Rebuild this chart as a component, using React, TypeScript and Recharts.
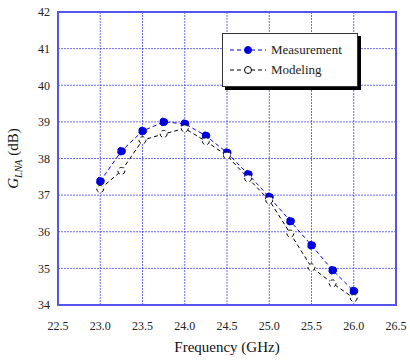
import React from 'react';
import {
    CartesianGrid,
    Label,
    Line,
    LineChart,
    ReferenceArea,
    XAxis,
    YAxis,
} from 'recharts';

const FREQUENCIES = [23.0, 23.25, 23.5, 23.75, 24.0, 24.25, 24.5, 24.75, 25.0, 25.25, 25.5, 25.75, 26.0];
const MEASUREMENT = [37.38, 38.2, 38.75, 39.0, 38.95, 38.62, 38.16, 37.57, 36.95, 36.29, 35.63, 34.95, 34.38];
const MODELING = [37.17, 37.66, 38.5, 38.67, 38.82, 38.47, 38.08, 37.46, 36.86, 35.95, 35.03, 34.59, 34.19];

const X_TICKS = [22.5, 23.0, 23.5, 24.0, 24.5, 25.0, 25.5, 26.0, 26.5];
const Y_TICKS = [34, 35, 36, 37, 38, 39, 40, 41, 42];

const FRAME_COLOR = '#5555ee';
const GRID_COLOR = '#3c3ce6';
const MEAS_COLOR = '#0000dd';
const FONT = '"Liberation Serif", "Times New Roman", serif';

const data = FREQUENCIES.map((f, i) => ({
    freq: f,
    measurement: MEASUREMENT[i],
    modeling: MODELING[i],
}));

const LEGEND_ITEMS = [
    {name: 'Measurement', color: MEAS_COLOR, fill: MEAS_COLOR},
    {name: 'Modeling', color: '#000000', fill: '#ffffff'},
];

// legend sits over the plot, so it is drawn outside the chart's layout
function LegendBox() {
    return (
        <div
            style={{
                position: 'absolute',
                left: 222,
                top: 33,
                width: 136,
                height: 54,
                background: '#fff',
                border: '1px solid #333',
                boxShadow: '3px 3px 0 #000',
                fontFamily: FONT,
                fontSize: 13,
                color: '#222',
                boxSizing: 'border-box',
                paddingTop: 6,
            }}
        >
            {LEGEND_ITEMS.map((item) => (
                <div key={item.name} style={{display: 'flex', alignItems: 'center', height: 20, paddingLeft: 6}}>
                    <svg width={38} height={10}>
                        <line x1={1} y1={5} x2={37} y2={5} stroke={item.color} strokeDasharray="4 3"/>
                        <circle cx={19} cy={5} r={3.5} fill={item.fill} stroke={item.color}/>
                    </svg>
                    <span style={{marginLeft: 4}}>{item.name}</span>
                </div>
            ))}
        </div>
    );
}

function YTitle({viewBox}: any) {
    const cx = 18;
    const cy = viewBox.y + viewBox.height / 2;
    return (
        <text
            x={cx}
            y={cy}
            transform={`rotate(-90 ${cx} ${cy})`}
            textAnchor="middle"
            fontFamily={FONT}
            fontSize={15}
            fill="#111"
        >
            <tspan fontStyle="italic">G</tspan>
            <tspan fontStyle="italic" fontSize={10} dy={4}>LNA</tspan>
            <tspan dy={-4}> (dB)</tspan>
        </text>
    );
}

export default function App() {
    return (
        <div style={{position: 'absolute', left: 0, top: 0, width: 410, height: 360, background: '#fff'}}>
            <LineChart width={410} height={360} data={data} margin={{top: 12, right: 14, left: 0, bottom: 0}}>
                <CartesianGrid
                    stroke={GRID_COLOR}
                    strokeDasharray="2 1"
                    strokeOpacity={0.75}
                    fill="none"
                    horizontalPoints={undefined}
                />
                <XAxis
                    dataKey="freq"
                    type="number"
                    domain={[22.5, 26.5]}
                    ticks={X_TICKS}
                    tickFormatter={(v: number) => v.toFixed(1)}
                    height={55}
                    axisLine={false}
                    tickLine={false}
                    tickSize={0}
                    tickMargin={16}
                    tick={{fill: '#222', fontFamily: FONT, fontSize: 12}}
                >
                    <Label
                        value="Frequency (GHz)"
                        position="insideBottom"
                        offset={8}
                        style={{fontFamily: FONT, fontSize: 15, fill: '#111'}}
                    />
                </XAxis>
                <YAxis
                    type="number"
                    domain={[34, 42]}
                    ticks={Y_TICKS}
                    width={58}
                    axisLine={false}
                    tickLine={false}
                    tickSize={0}
                    tickMargin={8}
                    tick={{fill: '#222', fontFamily: FONT, fontSize: 12}}
                >
                    <Label content={YTitle}/>
                </YAxis>
                <ReferenceArea
                    x1={22.5}
                    x2={26.5}
                    y1={34}
                    y2={42}
                    fill="none"
                    fillOpacity={0}
                    stroke={FRAME_COLOR}
                    strokeWidth={2}
                    ifOverflow="visible"
                />
                <Line
                    dataKey="measurement"
                    name="Measurement"
                    stroke={MEAS_COLOR}
                    strokeDasharray="4 3"
                    strokeWidth={1}
                    dot={{r: 4, fill: MEAS_COLOR, stroke: MEAS_COLOR, strokeWidth: 1}}
                    isAnimationActive={false}
                />
                <Line
                    dataKey="modeling"
                    name="Modeling"
                    stroke="#000"
                    strokeDasharray="4 3"
                    strokeWidth={1}
                    dot={{r: 3.5, fill: '#fff', stroke: '#000', strokeWidth: 1}}
                    isAnimationActive={false}
                />
            </LineChart>
            <LegendBox/>
        </div>
    );
}
